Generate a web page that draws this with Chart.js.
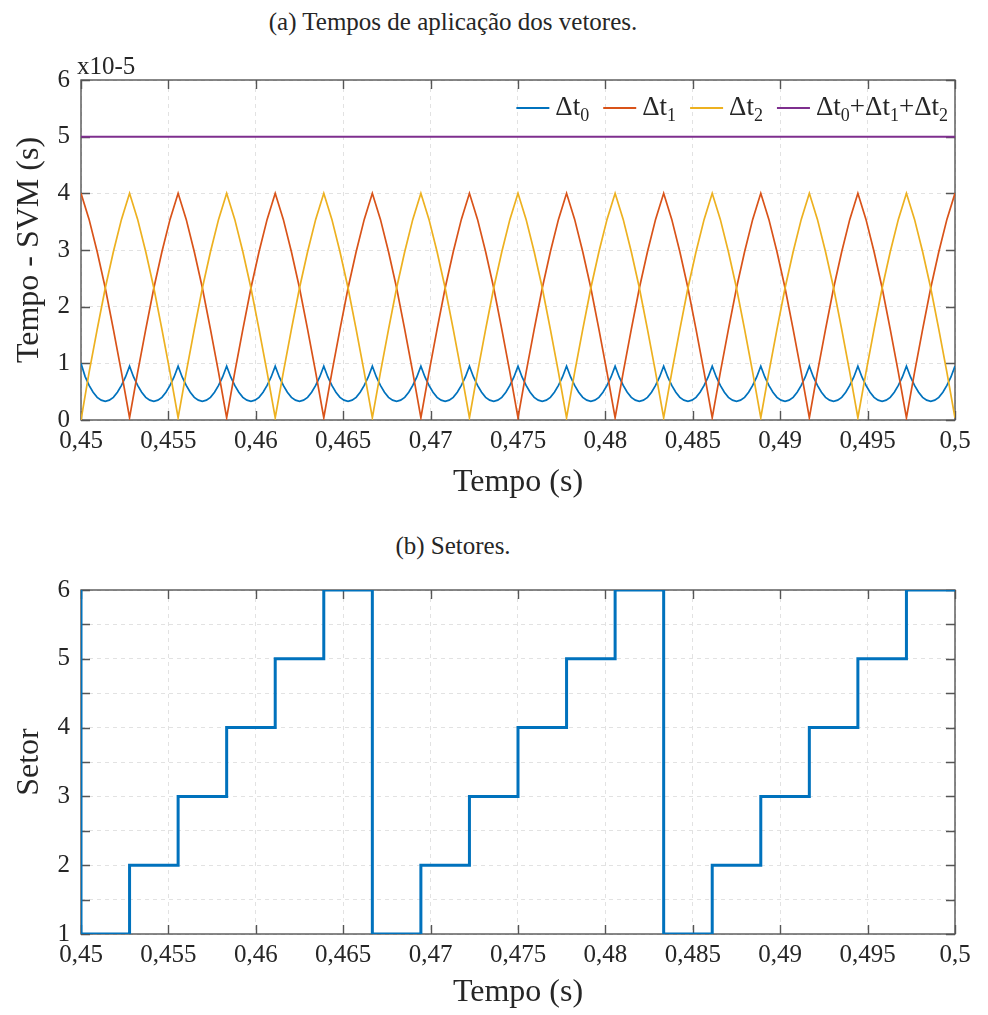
<!DOCTYPE html>
<html>
<head>
<meta charset="utf-8">
<script src="https://cdn.jsdelivr.net/npm/chart.js@4.4.1/dist/chart.umd.min.js"></script>
<style>
  body { margin: 0; background: #fff; width: 988px; height: 1015px; position: relative; overflow: hidden; }
  .titulo { position: absolute; left: 453px; transform: translateX(-50%); white-space: nowrap;
            font: 25px "Liberation Serif", serif; line-height: 30px; color: #262626; }
  canvas { position: absolute; left: 0; }
</style>
</head>
<body>
<div class="titulo" style="top:7px">(a) Tempos de aplicação dos vetores.</div>
<canvas id="graficoA" width="988" height="470" style="top:40px;width:988px;height:470px"></canvas>
<div class="titulo" style="top:531px">(b) Setores.</div>
<canvas id="graficoB" width="988" height="455" style="top:560px;width:988px;height:455px"></canvas>
<script>
// dados (tempos em x10^-5 s)
const tempos = [
  0.450000, 0.450463, 0.450926, 0.451389, 0.451852, 0.452315,
  0.452778, 0.453241, 0.453704, 0.454167, 0.454630, 0.455093,
  0.455556, 0.456019, 0.456481, 0.456944, 0.457407, 0.457870,
  0.458333, 0.458796, 0.459259, 0.459722, 0.460185, 0.460648,
  0.461111, 0.461574, 0.462037, 0.462500, 0.462963, 0.463426,
  0.463889, 0.464352, 0.464815, 0.465278, 0.465741, 0.466204,
  0.466667, 0.467130, 0.467593, 0.468056, 0.468519, 0.468981,
  0.469444, 0.469907, 0.470370, 0.470833, 0.471296, 0.471759,
  0.472222, 0.472685, 0.473148, 0.473611, 0.474074, 0.474537,
  0.475000, 0.475463, 0.475926, 0.476389, 0.476852, 0.477315,
  0.477778, 0.478241, 0.478704, 0.479167, 0.479630, 0.480093,
  0.480556, 0.481019, 0.481481, 0.481944, 0.482407, 0.482870,
  0.483333, 0.483796, 0.484259, 0.484722, 0.485185, 0.485648,
  0.486111, 0.486574, 0.487037, 0.487500, 0.487963, 0.488426,
  0.488889, 0.489352, 0.489815, 0.490278, 0.490741, 0.491204,
  0.491667, 0.492130, 0.492593, 0.493056, 0.493519, 0.493981,
  0.494444, 0.494907, 0.495370, 0.495833, 0.496296, 0.496759,
  0.497222, 0.497685, 0.498148, 0.498611, 0.499074, 0.499537,
  0.500000
];
const deltaT1 = [
  4.00, 3.54, 2.97, 2.33, 1.60, 0.84,
  0.04, 0.84, 1.60, 2.33, 2.97, 3.54,
  4.00, 3.54, 2.97, 2.33, 1.60, 0.84,
  0.04, 0.84, 1.60, 2.33, 2.97, 3.54,
  4.00, 3.54, 2.97, 2.33, 1.60, 0.84,
  0.04, 0.84, 1.60, 2.33, 2.97, 3.54,
  4.00, 3.54, 2.97, 2.33, 1.60, 0.84,
  0.04, 0.84, 1.60, 2.33, 2.97, 3.54,
  4.00, 3.54, 2.97, 2.33, 1.60, 0.84,
  0.04, 0.84, 1.60, 2.33, 2.97, 3.54,
  4.00, 3.54, 2.97, 2.33, 1.60, 0.84,
  0.04, 0.84, 1.60, 2.33, 2.97, 3.54,
  4.00, 3.54, 2.97, 2.33, 1.60, 0.84,
  0.04, 0.84, 1.60, 2.33, 2.97, 3.54,
  4.00, 3.54, 2.97, 2.33, 1.60, 0.84,
  0.04, 0.84, 1.60, 2.33, 2.97, 3.54,
  4.00, 3.54, 2.97, 2.33, 1.60, 0.84,
  0.04, 0.84, 1.60, 2.33, 2.97, 3.54,
  4.00
];
const deltaT2 = [
  0.00, 0.84, 1.60, 2.33, 2.97, 3.54,
  4.00, 3.54, 2.97, 2.33, 1.60, 0.84,
  0.04, 0.84, 1.60, 2.33, 2.97, 3.54,
  4.00, 3.54, 2.97, 2.33, 1.60, 0.84,
  0.04, 0.84, 1.60, 2.33, 2.97, 3.54,
  4.00, 3.54, 2.97, 2.33, 1.60, 0.84,
  0.04, 0.84, 1.60, 2.33, 2.97, 3.54,
  4.00, 3.54, 2.97, 2.33, 1.60, 0.84,
  0.04, 0.84, 1.60, 2.33, 2.97, 3.54,
  4.00, 3.54, 2.97, 2.33, 1.60, 0.84,
  0.04, 0.84, 1.60, 2.33, 2.97, 3.54,
  4.00, 3.54, 2.97, 2.33, 1.60, 0.84,
  0.04, 0.84, 1.60, 2.33, 2.97, 3.54,
  4.00, 3.54, 2.97, 2.33, 1.60, 0.84,
  0.04, 0.84, 1.60, 2.33, 2.97, 3.54,
  4.00, 3.54, 2.97, 2.33, 1.60, 0.84,
  0.04, 0.84, 1.60, 2.33, 2.97, 3.54,
  4.00, 3.54, 2.97, 2.33, 1.60, 0.84,
  0.04
];
// Δt0 tem curva em "U", lida com mais pontos
const temposFino = [
  0.450000, 0.450231, 0.450463, 0.450694, 0.450926, 0.451157, 0.451389, 0.451620, 0.451852, 0.452083, 0.452315, 0.452546,
  0.452778, 0.453009, 0.453241, 0.453472, 0.453704, 0.453935, 0.454167, 0.454398, 0.454630, 0.454861, 0.455093, 0.455324,
  0.455556, 0.455787, 0.456019, 0.456250, 0.456481, 0.456713, 0.456944, 0.457176, 0.457407, 0.457639, 0.457870, 0.458102,
  0.458333, 0.458565, 0.458796, 0.459028, 0.459259, 0.459491, 0.459722, 0.459954, 0.460185, 0.460417, 0.460648, 0.460880,
  0.461111, 0.461343, 0.461574, 0.461806, 0.462037, 0.462269, 0.462500, 0.462731, 0.462963, 0.463194, 0.463426, 0.463657,
  0.463889, 0.464120, 0.464352, 0.464583, 0.464815, 0.465046, 0.465278, 0.465509, 0.465741, 0.465972, 0.466204, 0.466435,
  0.466667, 0.466898, 0.467130, 0.467361, 0.467593, 0.467824, 0.468056, 0.468287, 0.468519, 0.468750, 0.468981, 0.469213,
  0.469444, 0.469676, 0.469907, 0.470139, 0.470370, 0.470602, 0.470833, 0.471065, 0.471296, 0.471528, 0.471759, 0.471991,
  0.472222, 0.472454, 0.472685, 0.472917, 0.473148, 0.473380, 0.473611, 0.473843, 0.474074, 0.474306, 0.474537, 0.474769,
  0.475000, 0.475231, 0.475463, 0.475694, 0.475926, 0.476157, 0.476389, 0.476620, 0.476852, 0.477083, 0.477315, 0.477546,
  0.477778, 0.478009, 0.478241, 0.478472, 0.478704, 0.478935, 0.479167, 0.479398, 0.479630, 0.479861, 0.480093, 0.480324,
  0.480556, 0.480787, 0.481019, 0.481250, 0.481481, 0.481713, 0.481944, 0.482176, 0.482407, 0.482639, 0.482870, 0.483102,
  0.483333, 0.483565, 0.483796, 0.484028, 0.484259, 0.484491, 0.484722, 0.484954, 0.485185, 0.485417, 0.485648, 0.485880,
  0.486111, 0.486343, 0.486574, 0.486806, 0.487037, 0.487269, 0.487500, 0.487731, 0.487963, 0.488194, 0.488426, 0.488657,
  0.488889, 0.489120, 0.489352, 0.489583, 0.489815, 0.490046, 0.490278, 0.490509, 0.490741, 0.490972, 0.491204, 0.491435,
  0.491667, 0.491898, 0.492130, 0.492361, 0.492593, 0.492824, 0.493056, 0.493287, 0.493519, 0.493750, 0.493981, 0.494213,
  0.494444, 0.494676, 0.494907, 0.495139, 0.495370, 0.495602, 0.495833, 0.496065, 0.496296, 0.496528, 0.496759, 0.496991,
  0.497222, 0.497454, 0.497685, 0.497917, 0.498148, 0.498380, 0.498611, 0.498843, 0.499074, 0.499306, 0.499537, 0.499769,
  0.500000
];
const deltaT0 = [
  1.00, 0.77, 0.61, 0.49, 0.40, 0.35, 0.33, 0.35, 0.40, 0.49, 0.61, 0.76,
  0.95, 0.76, 0.61, 0.49, 0.40, 0.35, 0.33, 0.35, 0.40, 0.49, 0.61, 0.76,
  0.95, 0.76, 0.61, 0.49, 0.40, 0.35, 0.33, 0.35, 0.40, 0.49, 0.61, 0.76,
  0.95, 0.76, 0.61, 0.49, 0.40, 0.35, 0.33, 0.35, 0.40, 0.49, 0.61, 0.76,
  0.95, 0.76, 0.61, 0.49, 0.40, 0.35, 0.33, 0.35, 0.40, 0.49, 0.61, 0.76,
  0.95, 0.76, 0.61, 0.49, 0.40, 0.35, 0.33, 0.35, 0.40, 0.49, 0.61, 0.76,
  0.95, 0.76, 0.61, 0.49, 0.40, 0.35, 0.33, 0.35, 0.40, 0.49, 0.61, 0.76,
  0.95, 0.76, 0.61, 0.49, 0.40, 0.35, 0.33, 0.35, 0.40, 0.49, 0.61, 0.76,
  0.95, 0.76, 0.61, 0.49, 0.40, 0.35, 0.33, 0.35, 0.40, 0.49, 0.61, 0.76,
  0.95, 0.76, 0.61, 0.49, 0.40, 0.35, 0.33, 0.35, 0.40, 0.49, 0.61, 0.76,
  0.95, 0.76, 0.61, 0.49, 0.40, 0.35, 0.33, 0.35, 0.40, 0.49, 0.61, 0.76,
  0.95, 0.76, 0.61, 0.49, 0.40, 0.35, 0.33, 0.35, 0.40, 0.49, 0.61, 0.76,
  0.95, 0.76, 0.61, 0.49, 0.40, 0.35, 0.33, 0.35, 0.40, 0.49, 0.61, 0.76,
  0.95, 0.76, 0.61, 0.49, 0.40, 0.35, 0.33, 0.35, 0.40, 0.49, 0.61, 0.76,
  0.95, 0.76, 0.61, 0.49, 0.40, 0.35, 0.33, 0.35, 0.40, 0.49, 0.61, 0.76,
  0.95, 0.76, 0.61, 0.49, 0.40, 0.35, 0.33, 0.35, 0.40, 0.49, 0.61, 0.76,
  0.95, 0.76, 0.61, 0.49, 0.40, 0.35, 0.33, 0.35, 0.40, 0.49, 0.61, 0.76,
  0.95, 0.76, 0.61, 0.49, 0.40, 0.35, 0.33, 0.35, 0.40, 0.49, 0.61, 0.76,
  0.95
];
const temposSoma = [0.45, 0.5];
const soma = [5, 5];

const setorTempos = [0.45, 0.45, 0.452778, 0.455556, 0.458333, 0.461111, 0.463889,
  0.466667, 0.469444, 0.472222, 0.475, 0.477778, 0.480556,
  0.483333, 0.486111, 0.488889, 0.491667, 0.494444, 0.497222, 0.5];
const setorValores = [6, 1, 2, 3, 4, 5, 6, 1, 2, 3, 4, 5, 6, 1, 2, 3, 4, 5, 6, 6];

const ticksTempo = [0.45, 0.455, 0.46, 0.465, 0.47, 0.475, 0.48, 0.485, 0.49, 0.495, 0.5];
const ticksSVM = [0, 1, 2, 3, 4, 5, 6];
const ticksSetor = [1, 1.5, 2, 2.5, 3, 3.5, 4, 4.5, 5, 5.5, 6];

// cores padrão do MATLAB
const azul = "#0072BD";
const laranja = "#D95319";
const amarelo = "#EDB120";
const roxo = "#7E2F8E";
const corTexto = "#262626";

Chart.defaults.font.family = '"Liberation Serif", serif';
Chart.defaults.color = corTexto;

function pontos(xs, ys) {
    return xs.map((x, i) => ({ x: x, y: ys[i] }));
}

function formataTempo(v) {
    return String(Number(v.toFixed(4))).replace(".", ",");
}

// caixa e marcas para dentro (estilo MATLAB)
const caixaPlugin = {
    id: "caixa",
    beforeDatasetsDraw(chart) {
        const ctx = chart.ctx;
        const a = chart.chartArea;
        const sx = chart.scales.x;
        const sy = chart.scales.y;
        const tam = 9;
        ctx.save();
        ctx.strokeStyle = "#555555";
        ctx.lineWidth = 1.4;
        ctx.beginPath();
        for (let t of sx.ticks) {
            let px = Math.round(sx.getPixelForValue(t.value)) + 0.5;
            ctx.moveTo(px, a.bottom);
            ctx.lineTo(px, a.bottom - tam);
            ctx.moveTo(px, a.top);
            ctx.lineTo(px, a.top + tam);
        }
        for (let t of sy.ticks) {
            let py = Math.round(sy.getPixelForValue(t.value)) + 0.5;
            ctx.moveTo(a.left, py);
            ctx.lineTo(a.left + tam, py);
            ctx.moveTo(a.right, py);
            ctx.lineTo(a.right - tam, py);
        }
        ctx.stroke();
        ctx.strokeRect(a.left, a.top, a.right - a.left, a.bottom - a.top);
        ctx.restore();
    },
};

// legenda dentro do gráfico, com subscritos
function separaRotulo(rotulo) {
    let partes = [];
    for (let c of rotulo) {
        let cod = c.charCodeAt(0);
        let sub = cod >= 0x2080 && cod <= 0x2089;
        let txt = sub ? String.fromCharCode(cod - 0x2080 + 48) : c;
        let ult = partes[partes.length - 1];
        if (ult && ult.sub === sub) ult.texto += txt;
        else partes.push({ texto: txt, sub: sub });
    }
    return partes;
}

const legendaPlugin = {
    id: "legendaDentro",
    afterDatasetsDraw(chart) {
        const ctx = chart.ctx;
        const a = chart.chartArea;
        const fonteG = '27px "Liberation Serif"';
        const fonteP = '18px "Liberation Serif"';
        const linhaLarg = 33;
        const folga = 6;
        const entre = 14;
        ctx.save();
        let itens = chart.data.datasets.map((ds) => {
            let partes = separaRotulo(ds.label);
            let larg = 0;
            for (let p of partes) {
                ctx.font = p.sub ? fonteP : fonteG;
                p.larg = ctx.measureText(p.texto).width;
                larg += p.larg;
            }
            return { cor: ds.borderColor, partes: partes, larg: larg };
        });
        let total = 0;
        for (let it of itens) total += linhaLarg + folga + it.larg;
        total += entre * (itens.length - 1);
        let x = a.right - 7 - total;
        const yLinha = a.top + 28;
        const yBase = a.top + 35;
        ctx.textBaseline = "alphabetic";
        ctx.textAlign = "left";
        for (let it of itens) {
            ctx.strokeStyle = it.cor;
            ctx.lineWidth = 2;
            ctx.beginPath();
            ctx.moveTo(x, yLinha);
            ctx.lineTo(x + linhaLarg, yLinha);
            ctx.stroke();
            x += linhaLarg + folga;
            ctx.fillStyle = corTexto;
            for (let p of it.partes) {
                ctx.font = p.sub ? fonteP : fonteG;
                ctx.fillText(p.texto, x, p.sub ? yBase + 6 : yBase);
                x += p.larg;
            }
            x += entre;
        }
        // multiplicador do eixo y
        ctx.font = '25px "Liberation Serif"';
        ctx.fillText("x10-5", a.left - 4, a.top - 6);
        ctx.restore();
    },
};

function eixoTempo(altura, padTitulo) {
    return {
        type: "linear",
        min: 0.45,
        max: 0.5,
        afterBuildTicks: (s) => {
            s.ticks = ticksTempo.map((v) => ({ value: v }));
        },
        afterFit: (s) => {
            s.height = altura;
        },
        ticks: {
            callback: (v) => formataTempo(v),
            font: { size: 25 },
            padding: 6,
            maxRotation: 0,
            autoSkip: false,
        },
        grid: { color: "#e2e2e2", lineWidth: 1, drawTicks: false },
        border: { display: false, dash: [4, 4] },
        title: {
            display: true,
            text: "Tempo (s)",
            font: { size: 32 },
            padding: { top: 0, bottom: padTitulo },
        },
    };
}

// (a) tempos de aplicação
new Chart(document.getElementById("graficoA"), {
    type: "line",
    data: {
        datasets: [
            { label: "Δt₀", data: pontos(temposFino, deltaT0), borderColor: azul, order: 4 },
            { label: "Δt₁", data: pontos(tempos, deltaT1), borderColor: laranja, order: 3 },
            { label: "Δt₂", data: pontos(tempos, deltaT2), borderColor: amarelo, order: 2 },
            { label: "Δt₀+Δt₁+Δt₂", data: pontos(temposSoma, soma), borderColor: roxo, order: 1, borderWidth: 2 },
        ],
    },
    options: {
        responsive: false,
        animation: false,
        devicePixelRatio: 1,
        events: [],
        layout: { padding: { top: 40, right: 33, left: 0, bottom: 0 } },
        elements: {
            point: { radius: 0 },
            line: { borderWidth: 1.7, tension: 0, fill: false },
        },
        plugins: { legend: { display: false }, tooltip: { enabled: false } },
        scales: {
            x: eixoTempo(90, 8),
            y: {
                type: "linear",
                min: 0,
                max: 6,
                afterBuildTicks: (s) => {
                    s.ticks = ticksSVM.map((v) => ({ value: v }));
                },
                afterFit: (s) => {
                    s.width = 81;
                },
                ticks: { font: { size: 25 }, padding: 11 },
                grid: { color: "#e2e2e2", lineWidth: 1, drawTicks: false },
                border: { display: false, dash: [4, 4] },
                title: {
                    display: true,
                    text: "Tempo - SVM (s)",
                    font: { size: 32 },
                    padding: { top: 10, bottom: 0 },
                },
            },
        },
    },
    plugins: [caixaPlugin, legendaPlugin],
});

// (b) setores
new Chart(document.getElementById("graficoB"), {
    type: "line",
    data: {
        datasets: [
            {
                label: "Setor",
                data: pontos(setorTempos, setorValores),
                borderColor: azul,
                borderWidth: 3,
                stepped: "before",
            },
        ],
    },
    options: {
        responsive: false,
        animation: false,
        devicePixelRatio: 1,
        events: [],
        layout: { padding: { top: 30, right: 33, left: 0, bottom: 0 } },
        elements: {
            point: { radius: 0 },
            line: { tension: 0, fill: false },
        },
        plugins: { legend: { display: false }, tooltip: { enabled: false } },
        scales: {
            x: eixoTempo(81, 3),
            y: {
                type: "linear",
                min: 1,
                max: 6,
                afterBuildTicks: (s) => {
                    s.ticks = ticksSetor.map((v) => ({ value: v }));
                },
                afterFit: (s) => {
                    s.width = 81;
                },
                ticks: {
                    font: { size: 25 },
                    padding: 11,
                    callback: (v) => (Number.isInteger(v) ? String(v) : ""),
                },
                grid: { color: "#e2e2e2", lineWidth: 1, drawTicks: false },
                border: { display: false, dash: [4, 4] },
                title: {
                    display: true,
                    text: "Setor",
                    font: { size: 32 },
                    padding: { top: 10, bottom: 0 },
                },
            },
        },
    },
    plugins: [caixaPlugin],
});
</script>
</body>
</html>
